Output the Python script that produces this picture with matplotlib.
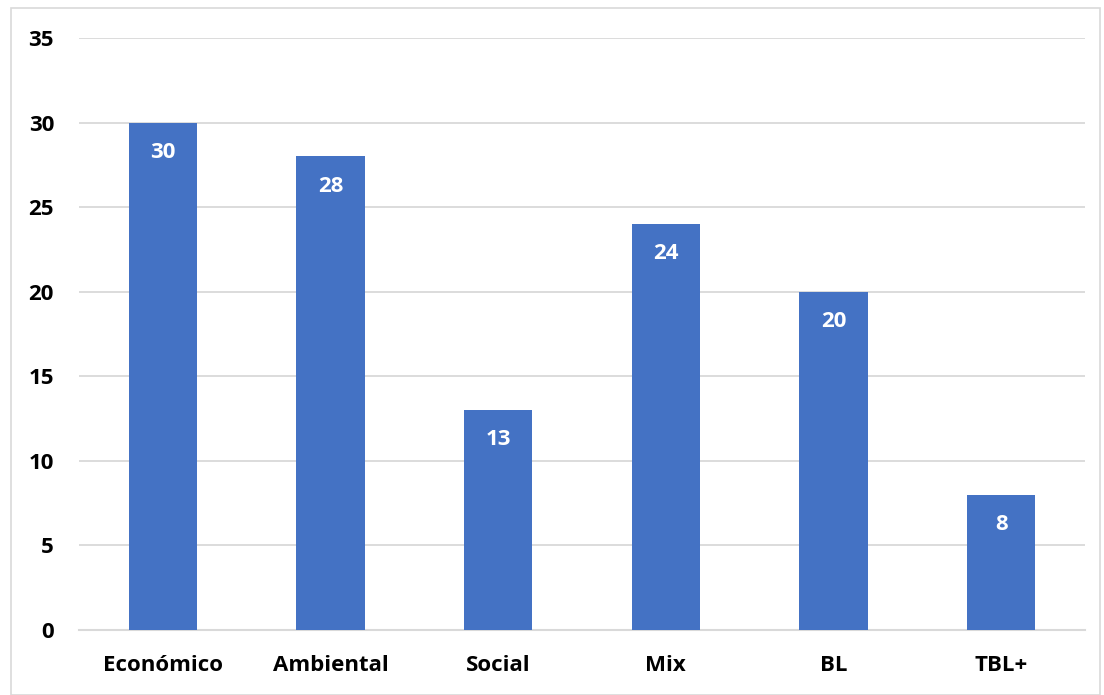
import matplotlib
matplotlib.use("Agg")
import matplotlib.pyplot as plt
from matplotlib.patches import Rectangle

categories = ["Económico", "Ambiental", "Social", "Mix", "BL", "TBL+"]
values = [30, 28, 13, 24, 20, 8]
yticks = [0, 5, 10, 15, 20, 25, 30, 35]

plt.rcParams['font.family'] = ['Open Sans', 'DejaVu Sans']

W, H = 1104, 695
fig = plt.figure(figsize=(W / 100, H / 100), dpi=100)
ax = fig.add_axes([79 / W, 1 - 630 / H, (1085 - 79) / W, (630 - 38) / H])

bars = ax.bar(range(len(categories)), values, width=0.406, color="#4472C4", zorder=3)
for b, v in zip(bars, values):
    ax.text(b.get_x() + b.get_width() / 2, v - 1.75, str(v), ha="center", va="center",
            color="white", fontsize=16, fontweight="bold", zorder=4)

ax.set_xlim(-0.5, len(categories) - 0.5)
ax.set_ylim(0, 35)
ax.set_yticks(yticks)
ax.set_xticks(range(len(categories)))
ax.set_xticklabels(categories, fontsize=16, fontweight="bold")
ax.set_yticklabels([str(t) for t in yticks], fontsize=16, fontweight="bold")
ax.yaxis.grid(True, color="#D9D9D9", linewidth=1.3, zorder=0)
ax.tick_params(axis="both", length=0)
ax.tick_params(axis="y", pad=18)
ax.tick_params(axis="x", pad=18)
for s in ["top", "right", "left"]:
    ax.spines[s].set_visible(False)
ax.spines["bottom"].set_color("#D9D9D9")
ax.spines["bottom"].set_linewidth(1.5)

fig.patches.append(Rectangle((11 / W, 0), (1100 - 11) / W, 1 - 8 / H,
                             transform=fig.transFigure, fill=False,
                             edgecolor="#D9D9D9", linewidth=1.2))

fig.savefig("out.png", dpi=100)
